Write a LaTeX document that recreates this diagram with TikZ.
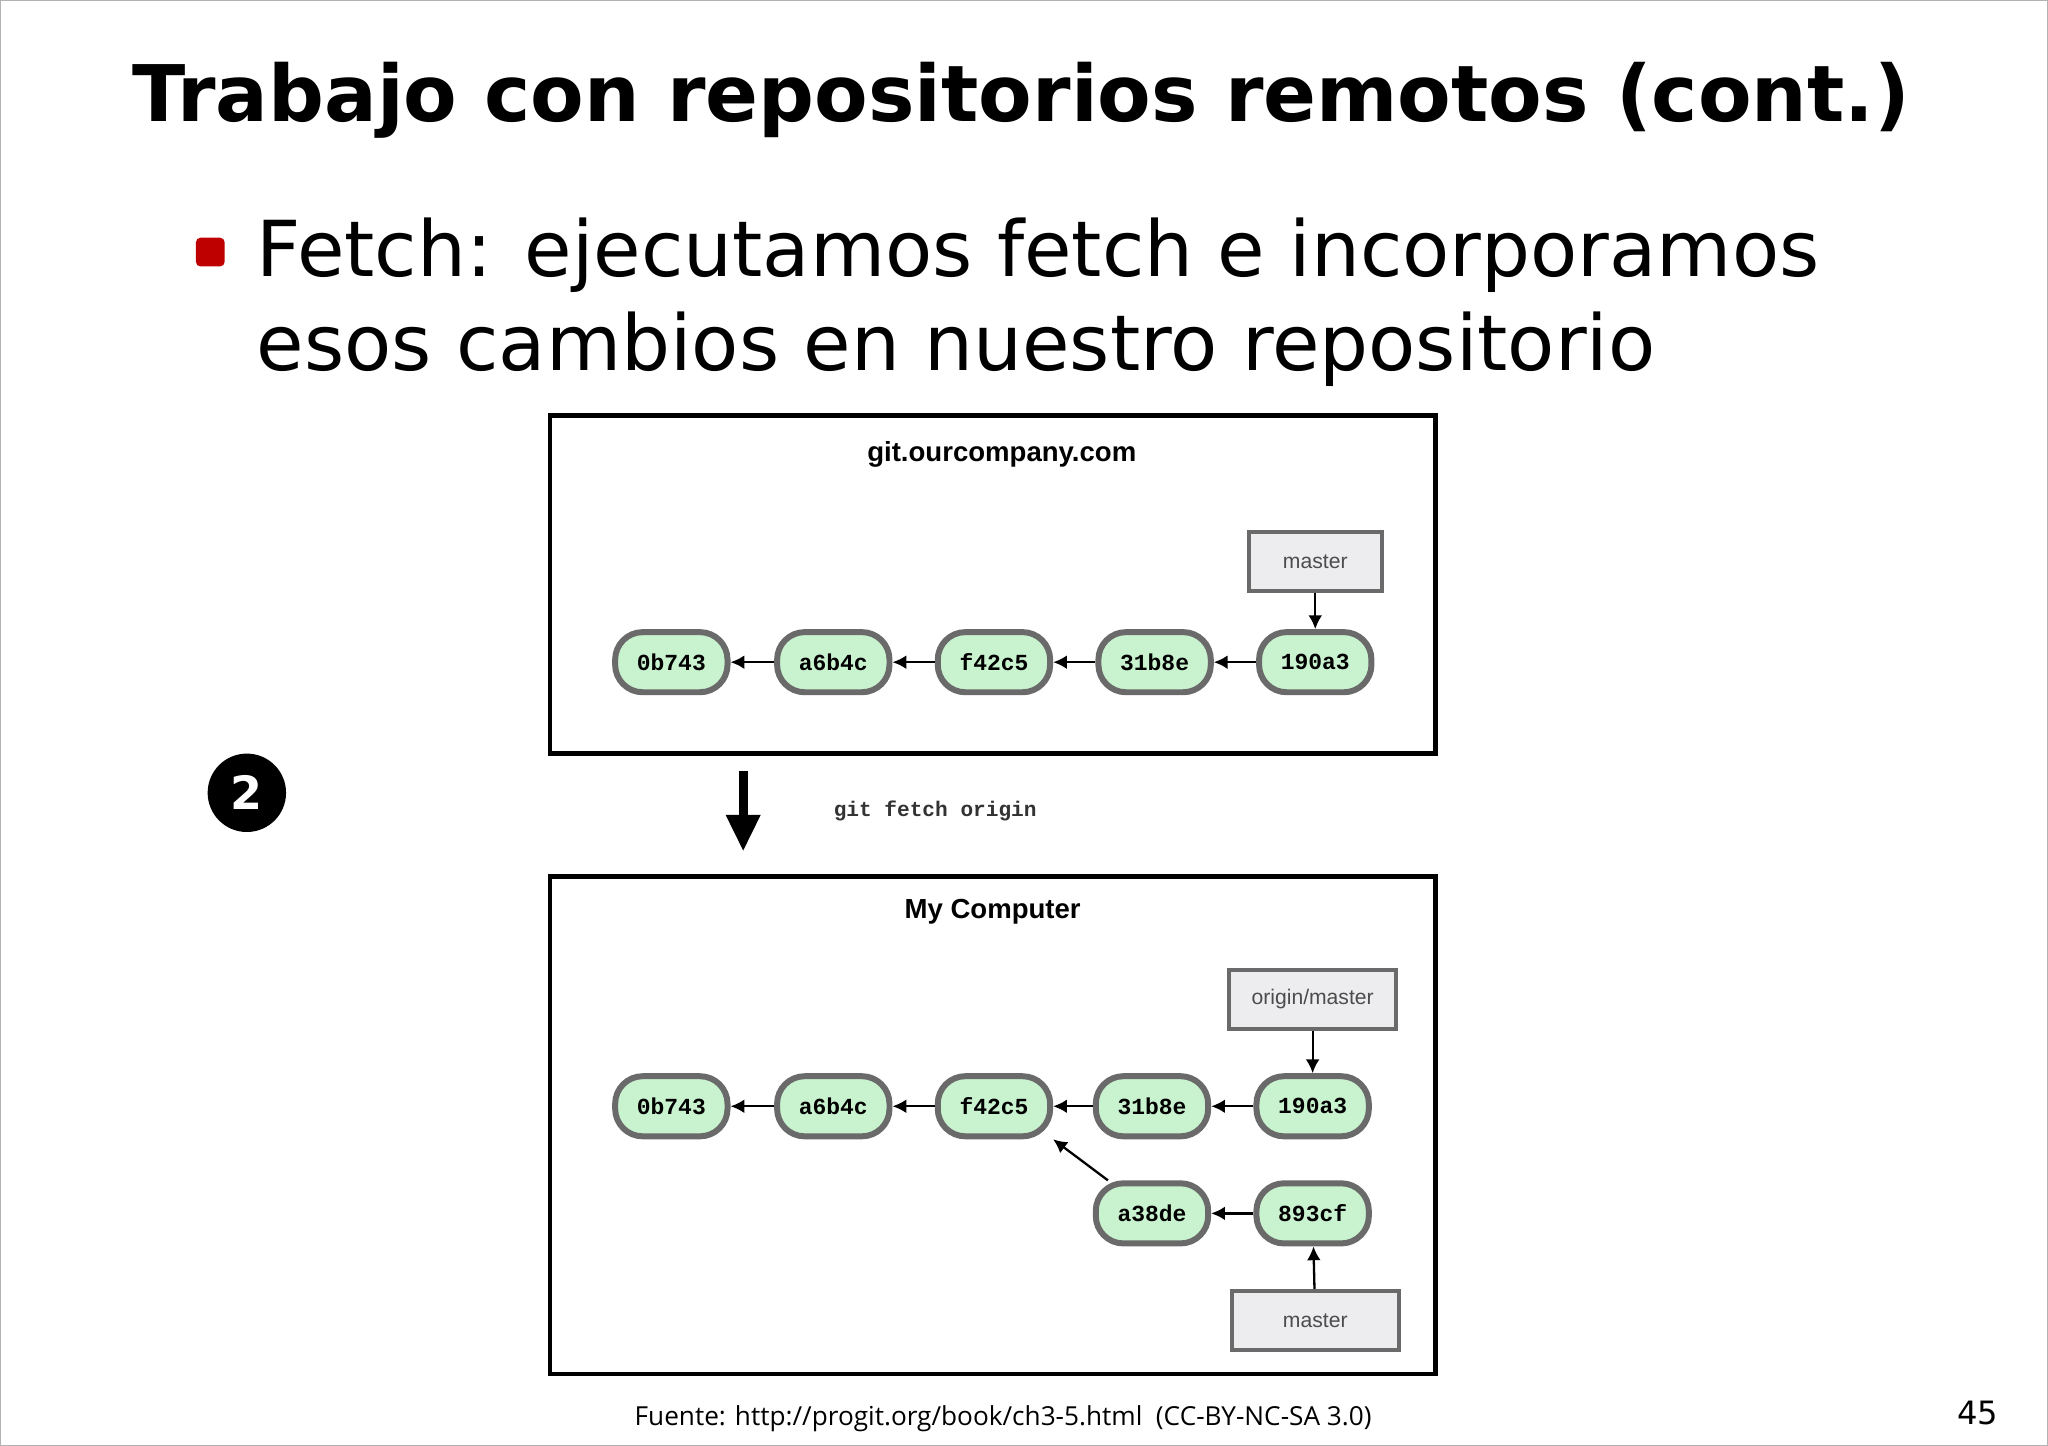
\documentclass[tikz,border=0pt]{standalone}
\usepackage{fontspec}
\setmainfont{DejaVu Sans}
\newfontfamily\mono{Liberation Mono}
\newfontfamily\lsans{Liberation Sans}
\newfontfamily\osans{Open Sans}
\usetikzlibrary{arrows.meta}
\definecolor{cgreen}{HTML}{C9F2CF}
\definecolor{cgray}{HTML}{6A6A6A}
\definecolor{bgray}{HTML}{EDECEE}
\tikzset{
 commit/.style={draw=cgray,line width=1.3pt,fill=cgreen,rounded corners=6pt,minimum width=0.86cm,minimum height=0.46cm,font=\mono\bfseries\fontsize{5}{6}\selectfont},
 ref/.style={draw=cgray,line width=0.9pt,fill=bgray,minimum height=0.45cm,font=\lsans\fontsize{4.6}{5}\selectfont,text=black!70},
 lnk/.style={-{Latex[length=3pt,width=3pt]},line width=0.5pt},
 frame/.style={draw,line width=1pt}
}
\begin{document}
\begin{tikzpicture}[x=0.01cm,y=-0.01cm]
\useasboundingbox[fill=white] (0,0) rectangle (1568,1107);
\draw[black!30] (0,0) rectangle (1568,1107);
\node[font=\bfseries\fontsize{17}{20}\selectfont] (title) at (782,77) {Trabajo con repositorios remotos (cont.)};
\node[fill=red!75!black,minimum size=0.22cm,inner sep=0,rounded corners=1pt] (bul) at (161,193) {};
\node[anchor=north west,align=left,font=\fontsize{16.8}{20.5}\selectfont,inner sep=0] (body) at (196,166) {Fetch: ejecutamos fetch e incorporamos\\esos cambios en nuestro repositorio};
% top frame
\draw[frame] (421,318) rectangle (1099,577);
\node[font=\lsans\bfseries\fontsize{6}{7}\selectfont] (t1) at (767,348) {git.ourcompany.com};
\node[commit] (a1) at (514,507) {0b743};
\node[commit] (b1) at (638,507) {a6b4c};
\node[commit] (c1) at (761,507) {f42c5};
\node[commit] (d1) at (884,507) {31b8e};
\node[commit] (e1) at (1007,507) {190a3};
\node[ref,minimum width=1.02cm] (m1) at (1007,430) {master};
\foreach \s/\t in {b1/a1,c1/b1,d1/c1,e1/d1} \draw[lnk] (\s) -- (\t);
\draw[lnk] (m1) -- (e1);
% middle
\node[circle,fill=black,text=white,minimum size=0.6cm,inner sep=0,font=\bfseries\fontsize{10}{12}\selectfont] (two) at (189,607) {2};
\coordinate (ar1) at (569,590); \coordinate (ar2) at (569,652);
\draw[-{Triangle[length=8pt,width=7pt]},line width=2pt] (ar1) -- (ar2);
\node[font=\mono\bfseries\fontsize{4.6}{6}\selectfont,text=black!80] (cmd) at (716,621) {git fetch origin};
% bottom frame
\draw[frame] (421,671) rectangle (1099,1052);
\node[font=\lsans\bfseries\fontsize{6}{7}\selectfont] (t2) at (760,698) {My Computer};
\node[commit] (a2) at (514,847) {0b743};
\node[commit] (b2) at (638,847) {a6b4c};
\node[commit] (c2) at (761,847) {f42c5};
\node[commit] (d2) at (882,847) {31b8e};
\node[commit] (e2) at (1005,847) {190a3};
\node[commit] (f2) at (882,929) {a38de};
\node[commit] (g2) at (1005,929) {893cf};
\node[ref,minimum width=1.28cm] (om) at (1005,765) {origin/master};
\node[ref,minimum width=1.28cm] (m2) at (1007,1011) {master};
\foreach \s/\t in {b2/a2,c2/b2,d2/c2,e2/d2,g2/f2} \draw[lnk] (\s) -- (\t);
\draw[lnk] (f2) -- (c2.south east);
\draw[lnk] (om) -- (e2);
\draw[lnk] (m2) -- (g2);
\node[font=\osans\fontsize{5.7}{6}\selectfont] (src) at (768,1086) {Fuente: http://progit.org/book/ch3-5.html\ \ (CC-BY-NC-SA 3.0)};
\node[font=\fontsize{7}{8}\selectfont] (pg) at (1514,1082) {45};
\end{tikzpicture}
\end{document}
